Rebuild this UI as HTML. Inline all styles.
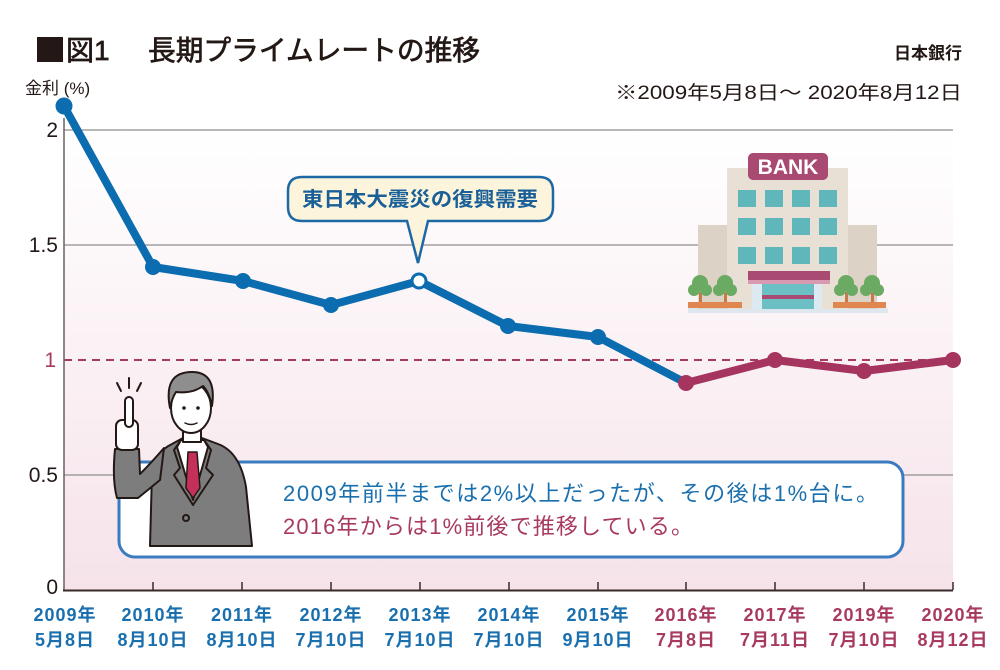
<!DOCTYPE html>
<html><head><meta charset="utf-8"><style>
html,body{margin:0;padding:0;background:#fff;}
svg{display:block;}
text{font-family:"Liberation Sans","Noto Sans CJK JP",sans-serif;}
</style></head><body>
<svg width="1000" height="670" viewBox="0 0 1000 670" xmlns="http://www.w3.org/2000/svg">
<defs>
<linearGradient id="bg" x1="0" y1="0" x2="0" y2="1">
<stop offset="0" stop-color="#ffffff"/>
<stop offset="1" stop-color="#f6e3ea"/>
</linearGradient>
</defs>
<rect width="1000" height="670" fill="#fff"/>
<!-- title -->
<rect x="37" y="37" width="26" height="25" fill="#231815"/>
<text x="66" y="60" font-size="28" fill="#231815" stroke="#231815" stroke-width="0.7">図1</text>
<text x="148" y="60" font-size="28" fill="#231815" stroke="#231815" stroke-width="0.7" textLength="332" lengthAdjust="spacingAndGlyphs">長期プライムレートの推移</text>
<text x="962" y="59" font-size="17" font-weight="bold" fill="#231815" text-anchor="end">日本銀行</text>
<text x="615" y="99" font-size="19" fill="#231815" textLength="347" lengthAdjust="spacingAndGlyphs">※2009年5月8日〜 2020年8月12日</text>
<text x="25" y="94" font-size="17" fill="#231815">金利 (%)</text>

<!-- plot bg -->
<rect x="64" y="130" width="889" height="460" fill="url(#bg)"/>
<line x1="64" y1="130" x2="953" y2="130" stroke="#8f8f8f" stroke-width="1.2"/>
<line x1="64" y1="245" x2="953" y2="245" stroke="#8f8f8f" stroke-width="1.2"/>
<line x1="64" y1="475" x2="953" y2="475" stroke="#8f8f8f" stroke-width="1.2"/>
<line x1="64" y1="360" x2="953" y2="360" stroke="#a83a62" stroke-width="2" stroke-dasharray="8,6"/>

<!-- y labels -->
<g font-size="21" fill="#231815" text-anchor="end">
<text x="58" y="137">2</text>
<text x="58" y="252">1.5</text>
<text x="56" y="367" fill="#a83a62">1</text>
<text x="58" y="482">0.5</text>
<text x="58" y="594">0</text>
</g>

<!-- bank -->
<g>
<rect x="688" y="308" width="200" height="5" fill="#dfe7ee"/>
<rect x="698" y="225" width="30" height="84" fill="#ddd2c6"/>
<rect x="848" y="225" width="29" height="84" fill="#ddd2c6"/>
<rect x="727" y="168" width="121" height="141" fill="#e8dfd5"/>
<g fill="#5fb7bc">
<rect x="738" y="190" width="18" height="17"/><rect x="765" y="190" width="18" height="17"/><rect x="792" y="190" width="18" height="17"/><rect x="819" y="190" width="18" height="17"/>
<rect x="738" y="218" width="18" height="17"/><rect x="765" y="218" width="18" height="17"/><rect x="792" y="218" width="18" height="17"/><rect x="819" y="218" width="18" height="17"/>
<rect x="738" y="247" width="18" height="17"/><rect x="765" y="247" width="18" height="17"/><rect x="792" y="247" width="18" height="17"/><rect x="819" y="247" width="18" height="17"/>
</g>
<rect x="748" y="153" width="80" height="27" rx="5" fill="#a84a72"/>
<text x="788" y="174" font-size="21" font-weight="bold" fill="#fff" text-anchor="middle">BANK</text>
<rect x="752" y="284" width="70" height="25" fill="#dde9f0"/>
<rect x="762" y="284" width="52" height="25" fill="#6cc0c4"/>
<rect x="762" y="295" width="52" height="4" fill="#a84a72"/>
<rect x="748" y="271" width="82" height="9" fill="#a84a72"/>
<rect x="748" y="280" width="82" height="4" fill="#d79ab0"/>
<g fill="#c7794a">
<rect x="699" y="292" width="3" height="12"/><rect x="724" y="292" width="3" height="12"/>
<rect x="845" y="292" width="3" height="12"/><rect x="871" y="292" width="3" height="12"/>
</g>
<g fill="#6aaa62">
<circle cx="700" cy="283" r="8"/><circle cx="694" cy="290" r="6"/><circle cx="706" cy="290" r="6"/>
<circle cx="725" cy="283" r="8"/><circle cx="719" cy="290" r="6"/><circle cx="731" cy="290" r="6"/>
<circle cx="846" cy="283" r="8"/><circle cx="840" cy="290" r="6"/><circle cx="852" cy="290" r="6"/>
<circle cx="872" cy="283" r="8"/><circle cx="866" cy="290" r="6"/><circle cx="878" cy="290" r="6"/>
</g>
<rect x="688" y="302" width="54" height="6" fill="#e08650"/>
<rect x="833" y="302" width="53" height="6" fill="#e08650"/>
</g>

<!-- comment box -->
<rect x="119" y="462" width="784" height="95" rx="16" fill="#fff" stroke="#3b7bbf" stroke-width="3"/>
<text x="283" y="501" font-size="22" fill="#1a6fae" textLength="595" lengthAdjust="spacing">2009年前半までは2%以上だったが、その後は1%台に。</text>
<text x="283" y="534" font-size="22" fill="#a83a62" textLength="410" lengthAdjust="spacing">2016年からは1%前後で推移している。</text>

<!-- person -->
<g stroke="#231815" stroke-width="2" stroke-linejoin="round" stroke-linecap="round">
<line x1="117" y1="383" x2="121" y2="391"/>
<line x1="129" y1="378" x2="129" y2="388"/>
<line x1="141" y1="383" x2="137" y2="391"/>
<path d="M150,546 L152,472 Q155,452 172,444 L183,438 L202,438 L218,444 Q240,452 246,487 L252,546 Z" fill="#7d7d7d"/>
<path d="M115,449 L139,449 L140,474 Q152,462 164,448 L160,480 L138,498 L117,498 Q112,480 115,449 Z" fill="#7d7d7d"/>
<path d="M181,440 L204,440 L208,447 L193,500 L177,447 Z" fill="#fff"/>
<path d="M188,452 L197,452 L200,488 L193,498 L186,488 Z" fill="#c4305a" stroke-width="1.5"/>
<path d="M181,440 L174,450 L180,468 L174,475 L193,505" fill="none"/>
<path d="M204,440 L211,450 L206,468 L213,475 L193,505" fill="none"/>
<circle cx="186" cy="518" r="3" fill="#7d7d7d"/>
<rect x="183" y="426" width="18" height="16" fill="#fff"/>
<ellipse cx="191" cy="408" rx="20" ry="25" fill="#fff"/>
<path d="M170,408 Q163,372 192,372 Q217,372 212,406 Q209,392 203,386 Q192,394 176,392 Q172,398 170,408 Z" fill="#8e8e8e"/>
<rect x="116" y="420" width="22" height="30" rx="6" fill="#fff"/>
<rect x="125" y="397" width="8" height="30" rx="4" fill="#fff"/>
<path d="M185,423 Q191,426 197,423" fill="none" stroke-width="1.5"/>
</g>
<circle cx="184" cy="408" r="1.8" fill="#231815"/>
<circle cx="198" cy="408" r="1.8" fill="#231815"/>

<!-- axes -->
<line x1="64" y1="118" x2="64" y2="591" stroke="#6a6060" stroke-width="1.5"/>
<line x1="63" y1="590.5" x2="953" y2="590.5" stroke="#3a2a2a" stroke-width="2"/>
<g stroke="#3a2a2a" stroke-width="1.5">
<line x1="153" y1="582" x2="153" y2="590"/><line x1="242" y1="582" x2="242" y2="590"/><line x1="331" y1="582" x2="331" y2="590"/><line x1="420" y1="582" x2="420" y2="590"/><line x1="509" y1="582" x2="509" y2="590"/><line x1="598" y1="582" x2="598" y2="590"/><line x1="686" y1="582" x2="686" y2="590"/><line x1="775" y1="582" x2="775" y2="590"/><line x1="864" y1="582" x2="864" y2="590"/><line x1="953" y1="582" x2="953" y2="590"/>
</g>

<!-- series -->
<polyline points="64,106 153,267 243,281 331,305 419,281 508,326 598,337 686,383" fill="none" stroke="#0b6cb0" stroke-width="8" stroke-linejoin="round"/>
<polyline points="686,383 775,360 864,371 953,360" fill="none" stroke="#a5355f" stroke-width="8" stroke-linejoin="round"/>
<g fill="#0b6cb0">
<circle cx="64" cy="106" r="8.5"/><circle cx="153" cy="267" r="8"/><circle cx="243" cy="281" r="8"/><circle cx="331" cy="305" r="8"/><circle cx="508" cy="326" r="8"/><circle cx="598" cy="337" r="8"/>
</g>
<circle cx="419" cy="281" r="7" fill="#fff" stroke="#0b6cb0" stroke-width="3"/>
<g fill="#a5355f">
<circle cx="686" cy="383" r="8"/><circle cx="775" cy="360" r="8"/><circle cx="864" cy="371" r="8"/><circle cx="953" cy="360" r="8"/>
</g>

<!-- speech bubble -->
<path d="M302,177 H539 Q553,177 553,191 V207 Q553,221 539,221 H428 L418,263 L407,221 H302 Q288,221 288,207 V191 Q288,177 302,177 Z" fill="#fcf5dc" stroke="#1f68a6" stroke-width="2.5"/>
<text x="302" y="206" font-size="20" font-weight="bold" fill="#1a5f98" textLength="236" lengthAdjust="spacingAndGlyphs">東日本大震災の復興需要</text>

<!-- x labels -->
<g font-size="18" font-weight="bold" text-anchor="middle" letter-spacing="1">
<g fill="#1a6fae">
<text x="65" y="621">2009年</text><text x="65" y="646">5月8日</text>
<text x="153" y="621">2010年</text><text x="153" y="646">8月10日</text>
<text x="242" y="621">2011年</text><text x="242" y="646">8月10日</text>
<text x="331" y="621">2012年</text><text x="331" y="646">7月10日</text>
<text x="420" y="621">2013年</text><text x="420" y="646">7月10日</text>
<text x="509" y="621">2014年</text><text x="509" y="646">7月10日</text>
<text x="598" y="621">2015年</text><text x="598" y="646">9月10日</text>
</g>
<g fill="#a83a62">
<text x="686" y="621">2016年</text><text x="686" y="646">7月8日</text>
<text x="775" y="621">2017年</text><text x="775" y="646">7月11日</text>
<text x="864" y="621">2019年</text><text x="864" y="646">7月10日</text>
<text x="953" y="621">2020年</text><text x="953" y="646">8月12日</text>
</g>
</g>
</svg>
</body></html>
